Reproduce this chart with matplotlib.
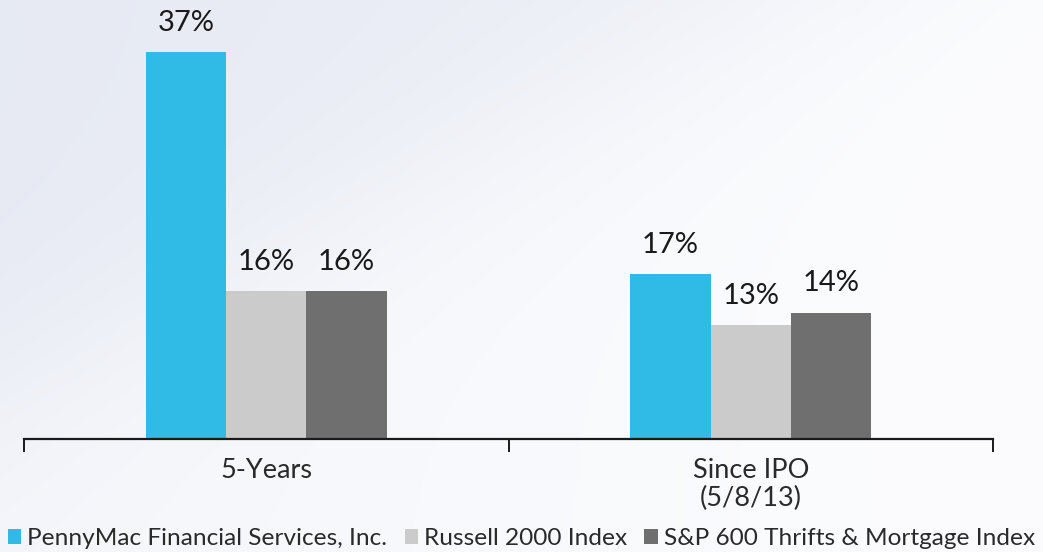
import numpy as np
import matplotlib.pyplot as plt

categories = ['5-Years', 'Since IPO\n(5/8/13)']
series = ['PennyMac Financial Services, Inc.', 'Russell 2000 Index',
          'S&P 600 Thrifts & Mortgage Index']
pfsi = [37.0, 17.4]
russell = [15.9, 12.9]
sp600 = [15.9, 14.0]
colors = ['#30bae6', '#cbcbcb', '#6f6f6f']

plt.rcParams['font.family'] = ['Lato', 'DejaVu Sans']

fig = plt.figure(figsize=(10.43, 5.52), dpi=100)

# background gradient
bg = fig.add_axes([0, 0, 1, 1])
W, H = 1043, 552
xx, yy = np.meshgrid(np.arange(W), np.arange(H))
s = xx / 770 + yy / 390 - 1
t = 1 / (1 + np.exp(-s * 6))
t = np.clip(t * 0.7 + xx / W * 0.35, 0, 1)
dark = np.array([0.905, 0.918, 0.955])
light = np.array([0.985, 0.988, 0.995])
img = dark + (light - dark) * t[..., None]
bg.imshow(img, aspect='auto', extent=[0, 1, 0, 1])
bg.axis('off')

ymin = 2.86
ax = fig.add_axes([24 / W, (H - 439) / H, (993 - 24) / W, (439 - 10) / H])
ax.patch.set_alpha(0)
ymax = ymin + 429 / 11.33

x = np.arange(len(categories))
bw = 0.166
for i, (vals, name) in enumerate(zip([pfsi, russell, sp600], series)):
    pos = x + (i - 1) * bw
    ax.bar(pos, [v - ymin for v in vals], bw, bottom=ymin,
           color=colors[i], label=name)
    for p, v in zip(pos, vals):
        ax.annotate(f'{v:.0f}%', (p, v), xytext=(0, 12), textcoords='offset points',
                    ha='center', va='bottom', fontsize=21, color='#1a1a1a')

ax.set_xlim(-0.5, 1.5)
ax.set_ylim(ymin, ymax)
for sp in ['top', 'right', 'left']:
    ax.spines[sp].set_visible(False)
ax.spines['bottom'].set_linewidth(1.6)
ax.spines['bottom'].set_color('#1a1a1a')
ax.set_yticks([])
ax.set_xticks(x)
ax.set_xticklabels(categories, fontsize=19.5, color='#2a2a2a', linespacing=1.1)
ax.tick_params(axis='x', which='major', length=0, pad=14)
ax.set_xticks([-0.5, 0.5, 1.5], minor=True)
ax.tick_params(axis='x', which='minor', length=9, width=1.4, color='#1a1a1a')

fig.legend(loc='lower center', bbox_to_anchor=(0.5, -0.035), ncol=3, frameon=False,
           fontsize=17.6, handlelength=0.55, handleheight=0.55, handletextpad=0.25,
           columnspacing=0.7, labelcolor='#2a2a2a')

fig.savefig('out.png', dpi=100)
